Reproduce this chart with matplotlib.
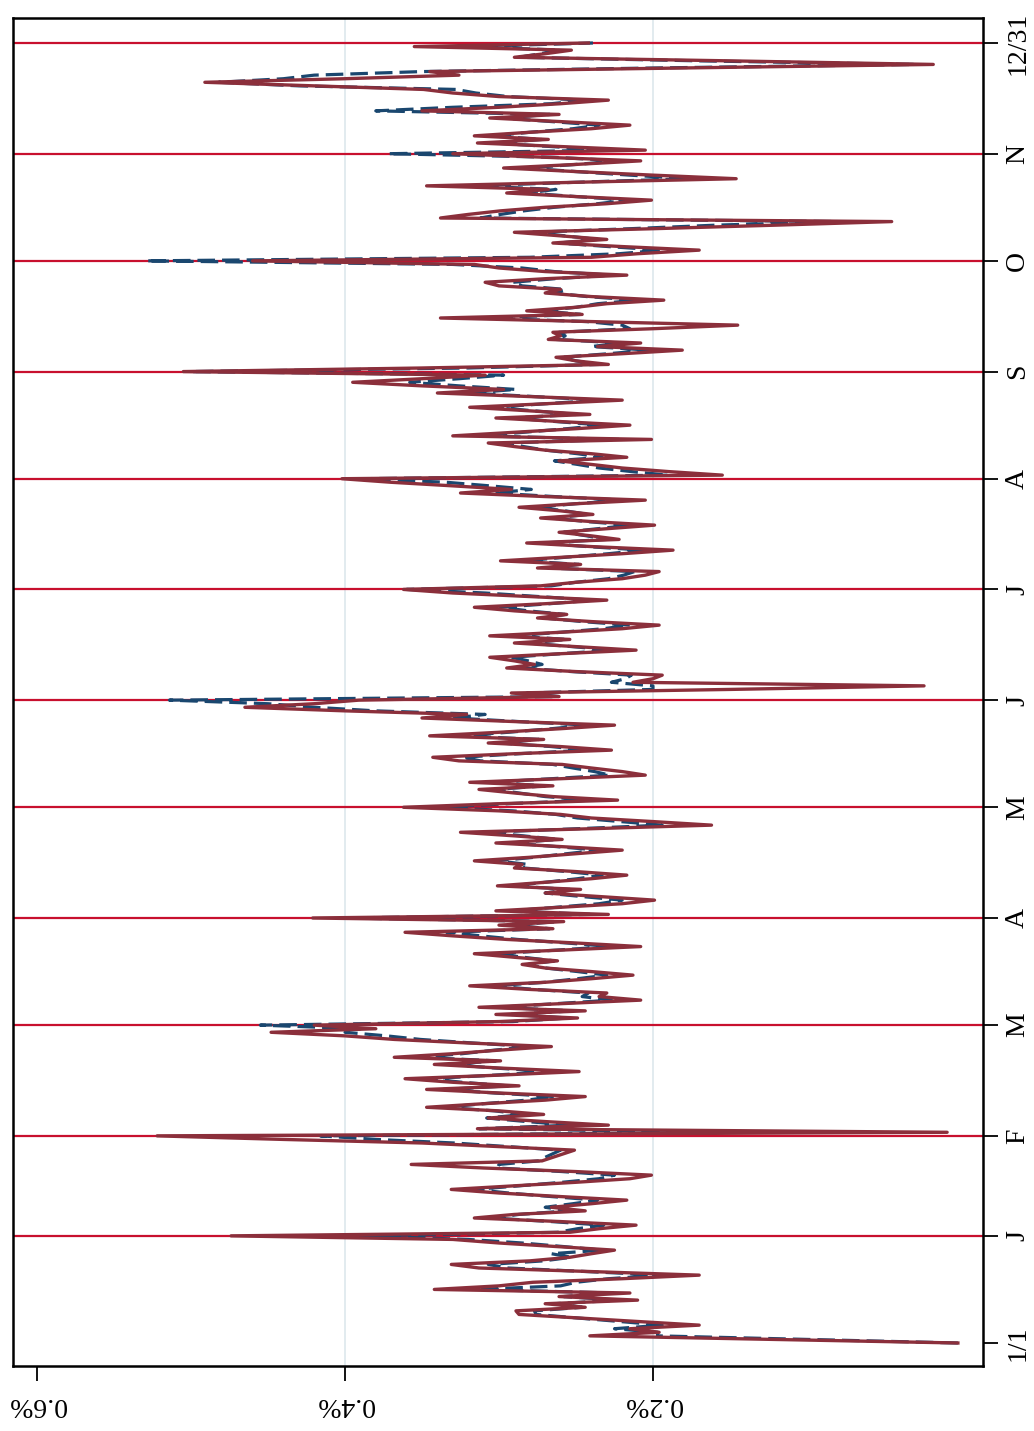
import numpy as np
import matplotlib
matplotlib.use('Agg')
import matplotlib.pyplot as plt

plt.rcParams['font.family'] = ['Liberation Serif', 'DejaVu Serif']

# daily share (%), one value per day of the year
actual = [
    # Jan
    0.002, 0.120, 0.241, 0.196, 0.215, 0.170, 0.209, 0.248, 0.287, 0.289, 0.244,
    0.270, 0.210, 0.261, 0.215, 0.342, 0.300, 0.278, 0.220, 0.170, 0.240, 0.313,
    0.331, 0.280, 0.254, 0.240, 0.225, 0.262, 0.300, 0.330, 0.474,
    # Feb
    0.254, 0.235, 0.211, 0.260, 0.316, 0.290, 0.244, 0.266, 0.240, 0.217, 0.260,
    0.300, 0.331, 0.290, 0.250, 0.215, 0.201, 0.250, 0.310, 0.357, 0.272, 0.265,
    0.258, 0.251, 0.300, 0.350, 0.440, 0.522,
    # Mar
    0.009, 0.314, 0.229, 0.270, 0.307, 0.271, 0.300, 0.347, 0.310, 0.270, 0.244,
    0.300, 0.347, 0.287, 0.330, 0.361, 0.300, 0.248, 0.300, 0.342, 0.299, 0.368,
    0.330, 0.300, 0.266, 0.320, 0.368, 0.400, 0.448, 0.380, 0.420,
    # Apr
    0.300, 0.249, 0.302, 0.244, 0.313, 0.260, 0.208, 0.235, 0.230, 0.280, 0.319,
    0.270, 0.240, 0.213, 0.240, 0.270, 0.285, 0.262, 0.290, 0.316, 0.260, 0.208,
    0.250, 0.295, 0.330, 0.361, 0.265, 0.300, 0.258, 0.421,
    # May
    0.229, 0.302, 0.260, 0.220, 0.199, 0.235, 0.270, 0.247, 0.301, 0.270, 0.240,
    0.217, 0.250, 0.290, 0.285, 0.316, 0.280, 0.250, 0.220, 0.260, 0.302, 0.259,
    0.290, 0.325, 0.240, 0.162, 0.200, 0.240, 0.260, 0.300, 0.362,
    # Jun
    0.300, 0.223, 0.265, 0.290, 0.313, 0.265, 0.319, 0.260, 0.205, 0.220, 0.240,
    0.259, 0.326, 0.343, 0.290, 0.227, 0.260, 0.307, 0.271, 0.345, 0.300, 0.260,
    0.225, 0.290, 0.350, 0.321, 0.400, 0.465, 0.420, 0.391,
    # Jul
    0.261, 0.292, 0.150, 0.024, 0.213, 0.200, 0.194, 0.250, 0.295, 0.277, 0.290,
    0.306, 0.260, 0.211, 0.250, 0.290, 0.254, 0.306, 0.260, 0.220, 0.196, 0.240,
    0.275, 0.256, 0.290, 0.316, 0.270, 0.230, 0.280, 0.330, 0.362,
    # Aug
    0.273, 0.250, 0.220, 0.205, 0.196, 0.275, 0.247, 0.299, 0.260, 0.220, 0.187,
    0.240, 0.282, 0.222, 0.240, 0.261, 0.230, 0.199, 0.240, 0.273, 0.239, 0.260,
    0.287, 0.250, 0.205, 0.270, 0.325, 0.292, 0.330, 0.370, 0.402,
    # Sep
    0.155, 0.190, 0.220, 0.240, 0.261, 0.217, 0.240, 0.270, 0.290, 0.307, 0.201,
    0.330, 0.290, 0.250, 0.215, 0.260, 0.302, 0.241, 0.280, 0.319, 0.270, 0.220,
    0.280, 0.340, 0.297, 0.350, 0.395, 0.350, 0.309, 0.505,
    # Oct
    0.350, 0.229, 0.250, 0.263, 0.220, 0.181, 0.236, 0.208, 0.268, 0.260, 0.265,
    0.200, 0.145, 0.240, 0.338, 0.246, 0.282, 0.250, 0.230, 0.193, 0.240, 0.270,
    0.260, 0.300, 0.309, 0.270, 0.217, 0.270, 0.300, 0.316, 0.460,
    # Nov
    0.240, 0.210, 0.170, 0.220, 0.265, 0.230, 0.260, 0.290, 0.200, 0.120, 0.045,
    0.338, 0.320, 0.299, 0.270, 0.230, 0.201, 0.250, 0.295, 0.268, 0.347, 0.250,
    0.146, 0.200, 0.250, 0.297, 0.250, 0.208, 0.270, 0.330,
    # Dec
    0.205, 0.260, 0.314, 0.268, 0.316, 0.280, 0.240, 0.215, 0.260, 0.306, 0.261,
    0.350, 0.300, 0.260, 0.229, 0.300, 0.330, 0.349, 0.420, 0.491, 0.400, 0.326,
    0.345, 0.180, 0.018, 0.150, 0.290, 0.270, 0.253, 0.355, 0.242,
]

fitted = [
    # Jan
    0.002, 0.100, 0.197, 0.197, 0.225, 0.194, 0.221, 0.249, 0.276, 0.277, 0.246,
    0.264, 0.222, 0.258, 0.226, 0.314, 0.260, 0.250, 0.229, 0.194, 0.243, 0.294,
    0.307, 0.271, 0.253, 0.266, 0.233, 0.258, 0.285, 0.320, 0.390,
    # Feb
    0.262, 0.249, 0.232, 0.266, 0.305, 0.287, 0.255, 0.270, 0.252, 0.236, 0.266,
    0.294, 0.316, 0.287, 0.259, 0.235, 0.225, 0.259, 0.301, 0.300, 0.274, 0.270,
    0.265, 0.260, 0.294, 0.329, 0.380, 0.416,
    # Mar
    0.150, 0.313, 0.253, 0.282, 0.308, 0.283, 0.303, 0.336, 0.310, 0.282, 0.264,
    0.303, 0.336, 0.294, 0.324, 0.346, 0.303, 0.267, 0.303, 0.332, 0.302, 0.351,
    0.324, 0.303, 0.279, 0.317, 0.351, 0.373, 0.400, 0.390, 0.455,
    # Apr
    0.291, 0.255, 0.292, 0.252, 0.300, 0.263, 0.227, 0.246, 0.242, 0.277, 0.304,
    0.270, 0.249, 0.230, 0.249, 0.270, 0.281, 0.264, 0.284, 0.302, 0.263, 0.227,
    0.256, 0.288, 0.312, 0.334, 0.267, 0.291, 0.262, 0.400,
    # May
    0.241, 0.292, 0.263, 0.235, 0.220, 0.246, 0.270, 0.254, 0.292, 0.270, 0.249,
    0.233, 0.256, 0.284, 0.281, 0.302, 0.277, 0.256, 0.235, 0.263, 0.292, 0.262,
    0.284, 0.309, 0.249, 0.194, 0.221, 0.249, 0.263, 0.291, 0.340,
    # Jun
    0.294, 0.240, 0.270, 0.287, 0.303, 0.270, 0.307, 0.266, 0.228, 0.238, 0.252,
    0.265, 0.312, 0.324, 0.287, 0.243, 0.266, 0.299, 0.274, 0.326, 0.294, 0.266,
    0.242, 0.287, 0.329, 0.309, 0.380, 0.420, 0.450, 0.514,
    # Jul
    0.261, 0.282, 0.200, 0.200, 0.227, 0.218, 0.214, 0.253, 0.285, 0.272, 0.281,
    0.292, 0.260, 0.226, 0.253, 0.281, 0.256, 0.292, 0.260, 0.232, 0.215, 0.246,
    0.271, 0.257, 0.281, 0.299, 0.267, 0.239, 0.274, 0.309, 0.360,
    # Aug
    0.266, 0.250, 0.229, 0.219, 0.212, 0.268, 0.248, 0.284, 0.257, 0.229, 0.206,
    0.243, 0.272, 0.230, 0.243, 0.258, 0.236, 0.214, 0.243, 0.266, 0.242, 0.257,
    0.276, 0.250, 0.219, 0.264, 0.303, 0.279, 0.306, 0.334, 0.390,
    # Sep
    0.190, 0.214, 0.235, 0.249, 0.264, 0.233, 0.249, 0.270, 0.284, 0.296, 0.222,
    0.312, 0.284, 0.256, 0.232, 0.263, 0.292, 0.250, 0.277, 0.304, 0.270, 0.235,
    0.277, 0.319, 0.289, 0.326, 0.358, 0.326, 0.297, 0.500,
    # Oct
    0.320, 0.235, 0.250, 0.259, 0.229, 0.202, 0.240, 0.221, 0.263, 0.257, 0.261,
    0.215, 0.220, 0.243, 0.312, 0.247, 0.272, 0.250, 0.236, 0.210, 0.243, 0.264,
    0.257, 0.285, 0.291, 0.264, 0.227, 0.264, 0.285, 0.330, 0.529,
    # Nov
    0.280, 0.222, 0.194, 0.229, 0.261, 0.236, 0.257, 0.278, 0.215, 0.159, 0.080,
    0.312, 0.299, 0.284, 0.264, 0.236, 0.216, 0.250, 0.282, 0.263, 0.318, 0.250,
    0.177, 0.215, 0.250, 0.283, 0.250, 0.221, 0.264, 0.372,
    # Dec
    0.228, 0.266, 0.304, 0.272, 0.305, 0.280, 0.252, 0.235, 0.266, 0.298, 0.267,
    0.380, 0.330, 0.266, 0.244, 0.294, 0.315, 0.328, 0.430, 0.482, 0.440, 0.420,
    0.350, 0.200, 0.030, 0.170, 0.287, 0.273, 0.260, 0.320, 0.239,
]

# last day of each month (day of year, 0 = Jan 1)
month_end = [30, 58, 89, 119, 150, 180, 211, 242, 272, 303, 333, 364]
date_ticks = [0, 30, 58, 89, 119, 150, 180, 211, 242, 272, 303, 333, 364]
date_labels = ['1/1', 'J', 'F', 'M', 'A', 'M', 'J', 'J', 'A', 'S', 'O', 'N', '12/31']
pct_ticks = [0.6, 0.4, 0.2]
pct_labels = ['0.6%', '0.4%', '0.2%']

day = np.arange(len(actual))

fig = plt.figure(figsize=(10.34, 14.31), dpi=100)
ax = fig.add_axes([13 / 1034, 65 / 1431, 970 / 1034, 1348 / 1431])

# the chart is drawn turned a quarter: dates run up, values run leftwards
for v in [0.2, 0.4]:
    ax.axvline(v, color='#dfe9ee', lw=1.3, zorder=0)
for d in month_end:
    ax.axhline(d, color='#c8102e', lw=1.6, zorder=1)

ax.plot(fitted, day, color='#1a476f', lw=2.3, ls=(0, (5.5, 2.2)), zorder=2)
ax.plot(actual, day, color='#8b2f3b', lw=2.4, zorder=3)

ax.set_xlim(0.6156, -0.0143)
ax.set_ylim(-6.44, 371.0)

ax.set_xticks(pct_ticks)
ax.set_xticklabels(pct_labels)
ax.yaxis.tick_right()
ax.set_yticks(date_ticks)
ax.set_yticklabels(date_labels)

ax.tick_params(axis='x', direction='out', length=11, width=1.3, pad=8,
               labelsize=20, labelrotation=180)
ax.tick_params(axis='y', direction='out', length=11, width=1.3, pad=5,
               labelsize=20, labelrotation=90)
for lab in ax.get_yticklabels():
    lab.set_verticalalignment('center')

for s in ax.spines.values():
    s.set_linewidth(1.8)

fig.savefig('out.png', dpi=100)
